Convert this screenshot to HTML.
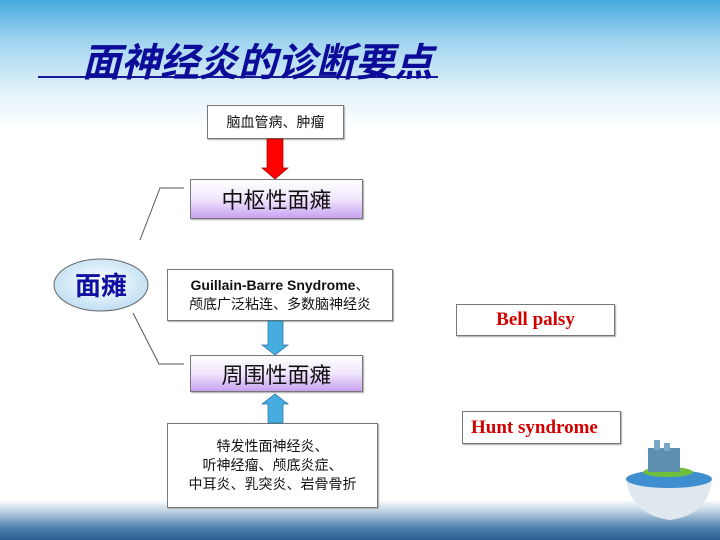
<!DOCTYPE html>
<html><head><meta charset="utf-8"><style>
*{margin:0;padding:0;box-sizing:border-box}
body{width:720px;height:540px;position:relative;overflow:hidden;background:linear-gradient(#45a9de 0px,#9fd3ef 40px,#e6f4fb 95px,#fff 130px,#fff 100%);font-family:"Liberation Sans","Noto Sans CJK SC",sans-serif}
.b{position:absolute;background:#fff;border:1px solid #777;box-shadow:1px 1px 1px #aaa;display:flex;align-items:center;justify-content:center;text-align:center;color:#111}
.p{background:linear-gradient(#fff 0%,#f0e6fb 50%,#c9a2f2 100%);font-size:22px}
.r{color:#d40000;font-family:"Liberation Serif",serif;font-weight:bold;font-size:19px}
</style></head><body>
<div style="position:absolute;left:0;top:500px;width:720px;height:40px;background:linear-gradient(#fff 0%,#b9cfe0 30%,#4d7fae 70%,#2b5f92 100%)"></div>
<div style="position:absolute;left:38px;top:76px;width:400px;height:2px;background:#1a1a99"></div>
<div style="position:absolute;left:82px;top:32px;font-size:39px;font-weight:bold;font-style:italic;color:#0c0c98;white-space:nowrap;font-family:'Liberation Sans','Noto Sans CJK SC',sans-serif">面神经炎的诊断要点</div>
<div class="b" style="left:207px;top:105px;width:137px;height:34px;font-size:14px">脑血管病、肿瘤</div>
<div class="b p" style="left:190px;top:179px;width:173px;height:40px">中枢性面瘫</div>
<div class="b" style="left:167px;top:269px;width:226px;height:52px;font-size:14px;line-height:19px"><div><b>Guillain-Barre Snydrome</b>、<br>颅底广泛粘连、多数脑神经炎</div></div>
<div class="b p" style="left:190px;top:355px;width:173px;height:37px">周围性面瘫</div>
<div class="b" style="left:167px;top:423px;width:211px;height:85px;font-size:14px;line-height:19px">特发性面神经炎、<br>听神经瘤、颅底炎症、<br>中耳炎、乳突炎、岩骨骨折</div>
<div class="b r" style="left:456px;top:304px;width:159px;height:32px">Bell palsy</div>
<div class="b r" style="left:462px;top:411px;width:159px;height:33px;justify-content:flex-start;padding-left:8px">Hunt syndrome</div>
<svg style="position:absolute;left:0;top:0" width="720" height="540">
<defs><radialGradient id="o" cx="50%" cy="45%" r="60%"><stop offset="0" stop-color="#fff"/><stop offset="1" stop-color="#b9dcf2"/></radialGradient></defs>
<polyline points="184,188 160,188 140,240" fill="none" stroke="#555" stroke-width="1"/>
<polyline points="133,313 159,364 184,364" fill="none" stroke="#555" stroke-width="1"/>
<ellipse cx="101" cy="285" rx="47" ry="26" fill="url(#o)" stroke="#666"/>
<text x="101" y="295" text-anchor="middle" font-size="26" font-weight="bold" fill="#1010a0" font-family="Noto Sans CJK SC,sans-serif">面瘫</text>
<polygon points="267,139 283,139 283,168 288,168 275,179 262,168 267,168" fill="#f00" stroke="#900" stroke-width="0.7"/>
<polygon points="268,321 283,321 283,345 288,345 275,355 262,345 268,345" fill="#45ade0" stroke="#2a6f99" stroke-width="0.7"/>
<polygon points="268,423 283,423 283,404 288,404 275,394 262,404 268,404" fill="#45ade0" stroke="#2a6f99" stroke-width="0.7"/>
<path d="M626,480 Q670,468 712,480 Q708,515 670,520 Q632,515 626,480Z" fill="#dfe8ef"/>
<ellipse cx="669" cy="479" rx="43" ry="9" fill="#3f8fd0"/>
<ellipse cx="668" cy="472" rx="25" ry="5" fill="#6fbf3a"/>
<rect x="648" y="448" width="32" height="24" fill="#5c8fb0"/>
<rect x="654" y="440" width="6" height="10" fill="#7aa7c6"/><rect x="664" y="443" width="6" height="8" fill="#7aa7c6"/>
</svg>
</body></html>
